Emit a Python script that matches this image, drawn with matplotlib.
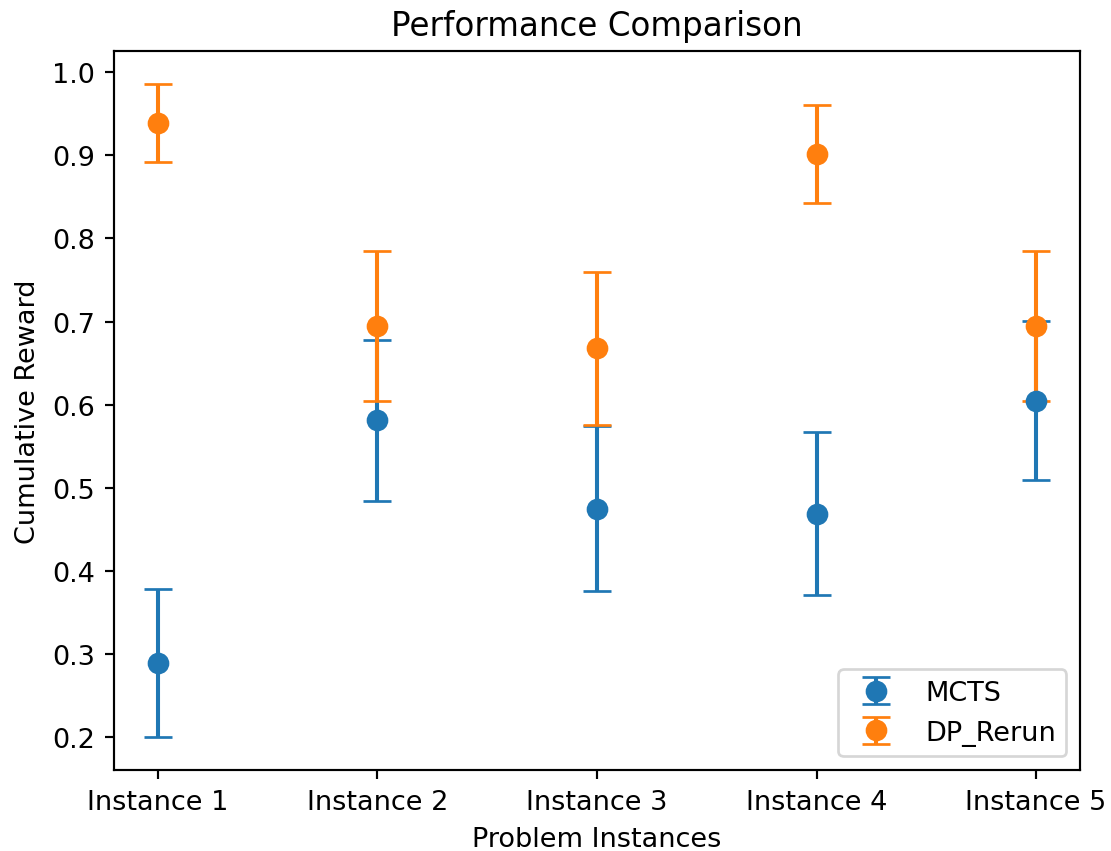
import numpy as np
import matplotlib
matplotlib.use('Agg')
import matplotlib.pyplot as plt

instances = ['Instance 1', 'Instance 2', 'Instance 3', 'Instance 4', 'Instance 5']

mcts_mean = [0.289, 0.581, 0.475, 0.469, 0.605]
mcts_err = [0.089, 0.097, 0.099, 0.098, 0.096]

dp_mean = [0.939, 0.695, 0.668, 0.901, 0.695]
dp_err = [0.047, 0.090, 0.092, 0.059, 0.090]

DPI = 195
fig, ax = plt.subplots(figsize=(1111 / DPI, 852 / DPI), dpi=DPI)
x = np.arange(len(instances))

ax.errorbar(x, mcts_mean, yerr=mcts_err, fmt='o', capsize=5, markersize=7, label='MCTS')
ax.errorbar(x, dp_mean, yerr=dp_err, fmt='o', capsize=5, markersize=7, label='DP_Rerun')

ax.set_xticks(x)
ax.set_xticklabels(instances)
ax.set_xlabel('Problem Instances')
ax.set_ylabel('Cumulative Reward')
ax.set_title('Performance Comparison')
ax.legend(loc='lower right')

fig.subplots_adjust(left=114 / 1111, right=1080 / 1111, top=1 - 52 / 852, bottom=1 - 771 / 852)
fig.savefig('out.png', dpi=DPI)
